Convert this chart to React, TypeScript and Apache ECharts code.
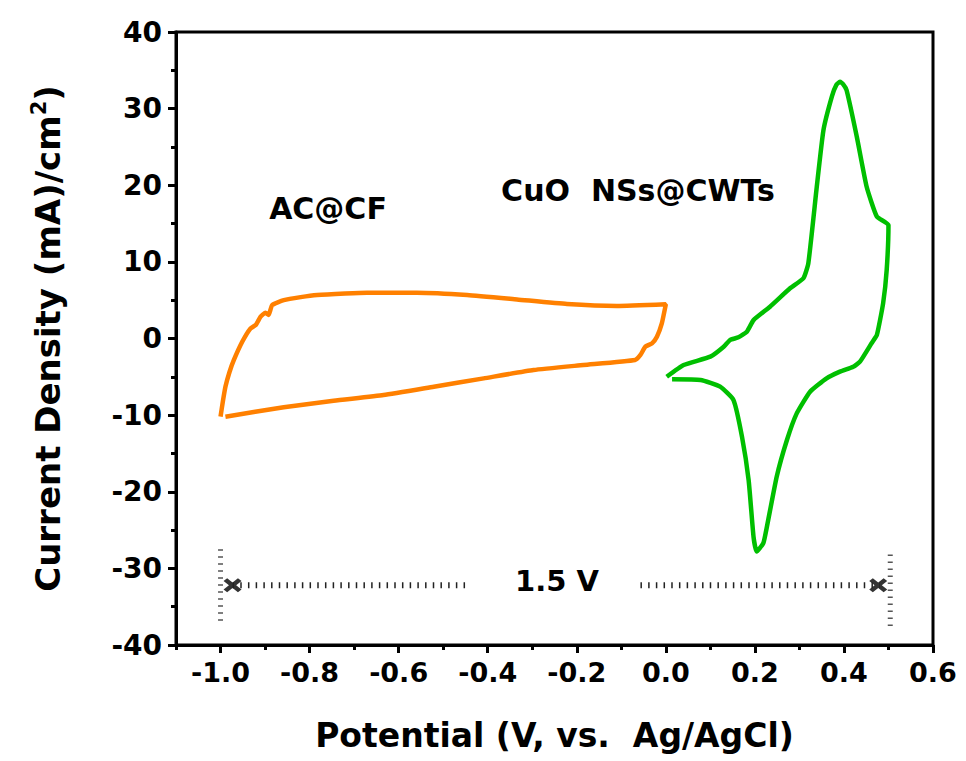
import React, { useEffect, useRef } from "react";
import * as echarts from "echarts";

// AC@CF cyclic voltammogram (Potential V, Current density mA/cm2)
const acPotential = [
  -1.0, -0.995, -0.989, -0.98, -0.97, -0.951, -0.933, -0.921, -0.91, -0.899, -0.892, -0.884, -0.858,
  -0.82, -0.783, -0.72, -0.671, -0.559, -0.446, -0.334, -0.222, -0.11, 0.0, -0.009, -0.02, -0.031,
  -0.046, -0.057, -0.069, -0.185, -0.297, -0.409, -0.521, -0.634, -0.746, -0.858, -0.989,
];
const acCurrent = [
  -10.2, -8.3, -6.3, -4.4, -2.8, -0.4, 1.3, 1.76, 2.85, 3.37, 3.07, 4.37, 5.0,
  5.4, 5.68, 5.88, 5.98, 5.98, 5.68, 5.1, 4.5, 4.24, 4.46, 1.98, 0.24, -0.63,
  -1.07, -2.15, -2.8, -3.46, -4.11, -5.2, -6.29, -7.38, -8.12, -8.98, -10.2,
];

// CuO NSs@CWTs cyclic voltammogram
const cuoPotential = [
  0.002, 0.04, 0.1, 0.13, 0.144, 0.163, 0.182, 0.197, 0.234, 0.279, 0.309, 0.32,
  0.339, 0.354, 0.373, 0.383, 0.391, 0.398, 0.406, 0.429, 0.451, 0.474, 0.5, 0.496, 0.488, 0.474,
  0.462, 0.436, 0.421, 0.391, 0.361, 0.324, 0.294, 0.272, 0.249, 0.227, 0.219, 0.204,
  0.197, 0.186, 0.171, 0.152, 0.122, 0.078, 0.014,
];
const cuoCurrent = [
  -4.99, -3.46, -2.37, -1.07, -0.2, 0.15, 0.89, 2.4, 4.15, 6.55, 7.86, 9.8,
  19.8, 27.2, 31.6, 33.1, 33.5, 33.2, 32.4, 26.3, 19.8, 15.9, 14.8, 8.94, 4.6, 0.46,
  -0.63, -3.03, -3.68, -4.33, -5.2, -6.94, -9.77, -13.25, -18.04, -24.57, -26.7, -27.8,
  -25.9, -18.5, -12.8, -8.03, -6.29, -5.42, -5.33,
];

// Potential window annotation (1.5 V)
const windowLeftDots = [-0.973, -0.45];
const windowRightDots = [-0.057, 0.481];
const windowMarks = [-0.973, 0.477];
const windowLevel = -32.2;
const windowEdgeLeft = { x: -1.0, y: [-27.5, -37.3] };
const windowEdgeRight = { x: 0.504, y: [-28.2, -37.6] };

const xMajorTicks = [-1.0, -0.8, -0.6, -0.4, -0.2, 0.0, 0.2, 0.4, 0.6];
const xMinorTicks = [-1.1, -0.9, -0.7, -0.5, -0.3, -0.1, 0.1, 0.3, 0.5];
const yTicks = [-40, -30, -20, -10, 0, 10, 20, 30, 40];

const FONT = "DejaVu Sans";

export default function App() {
  const ref = useRef<HTMLDivElement>(null);
  useEffect(() => {
    if (!ref.current) return;
    const chart = echarts.init(ref.current, null, { renderer: "svg" });
    const zip = (xs: number[], ys: number[]) => xs.map((x, i) => [x, ys[i]]);
    const dotStyle = { color: "#222", width: 6, type: [1.5, 6.2] as any, cap: "butt" as any };
    const edgeStyle = { color: "#555", width: 5, type: [1.5, 5.5] as any, cap: "butt" as any };
    chart.setOption({
      animation: false,
      backgroundColor: "#fff",
      grid: {
        left: 176, top: 32, right: 33, bottom: 116,
        show: true, borderColor: "#000", borderWidth: 3, backgroundColor: "transparent",
      },
      xAxis: [
        {
          type: "value", min: -1.1, max: 0.6,
          name: "Potential (V, vs.  Ag/AgCl)", nameLocation: "middle", nameGap: 74,
          nameTextStyle: { fontFamily: FONT, fontWeight: "bold", fontSize: 33, color: "#000" },
          axisLine: { show: true, onZero: false, lineStyle: { color: "#000", width: 3 } },
          axisTick: { show: true, customValues: xMajorTicks, length: 8, lineStyle: { color: "#000", width: 3 } },
          axisLabel: {
            customValues: xMajorTicks, margin: 14,
            formatter: (v: number) => v.toFixed(1),
            fontFamily: FONT, fontWeight: "bold", fontSize: 27, color: "#000",
          },
          splitLine: { show: false },
        },
        {
          type: "value", min: -1.1, max: 0.6, position: "bottom",
          axisLine: { show: false, onZero: false },
          axisTick: { show: true, customValues: xMinorTicks, length: 5, lineStyle: { color: "#000", width: 3 } },
          axisLabel: { show: false },
          splitLine: { show: false },
        },
      ],
      yAxis: {
        type: "value", min: -40, max: 40, interval: 10,
        name: "{a|Current Density (mA)/cm}{s|2}{a|)}",
        nameLocation: "middle", nameGap: 108, nameRotate: 90,
        nameTextStyle: {
          rich: {
            a: { fontFamily: FONT, fontWeight: "bold", fontSize: 34, color: "#000", lineHeight: 40 },
            s: { fontFamily: FONT, fontWeight: "bold", fontSize: 21, color: "#000", verticalAlign: "top", lineHeight: 40 },
          },
        },
        axisLine: { show: true, onZero: false, lineStyle: { color: "#000", width: 3 } },
        axisTick: { show: true, length: 8, lineStyle: { color: "#000", width: 3 } },
        minorTick: { show: true, splitNumber: 2, length: 5, lineStyle: { color: "#000", width: 3 } },
        axisLabel: {
          margin: 14, customValues: yTicks,
          fontFamily: FONT, fontWeight: "bold", fontSize: 28, color: "#000",
        },
        splitLine: { show: false },
      },
      series: [
        {
          type: "line", name: "AC@CF", data: zip(acPotential, acCurrent), smooth: 0.15,
          showSymbol: false, lineStyle: { color: "#FF8000", width: 4.5 }, itemStyle: { color: "#FF8000" },
        },
        {
          type: "line", name: "CuO NSs@CWTs", data: zip(cuoPotential, cuoCurrent), smooth: 0.15,
          showSymbol: false, lineStyle: { color: "#00BF00", width: 4.5 }, itemStyle: { color: "#00BF00" },
        },
        {
          type: "line", data: windowLeftDots.map((x) => [x, windowLevel]),
          showSymbol: false, lineStyle: dotStyle, silent: true,
        },
        {
          type: "line", data: windowRightDots.map((x) => [x, windowLevel]),
          showSymbol: false, lineStyle: dotStyle, silent: true,
        },
        {
          type: "line", data: windowEdgeLeft.y.map((y) => [windowEdgeLeft.x, y]),
          showSymbol: false, lineStyle: edgeStyle, silent: true,
        },
        {
          type: "line", data: windowEdgeRight.y.map((y) => [windowEdgeRight.x, y]),
          showSymbol: false, lineStyle: edgeStyle, silent: true,
        },
        {
          type: "scatter", data: windowMarks.map((x) => [x, windowLevel]),
          symbol: "path://M0,4L4,0L10,6L16,0L20,4L14,10L20,16L16,20L10,14L4,20L0,16L6,10Z",
          symbolSize: [18, 14], itemStyle: { color: "#000" }, silent: true,
        },
      ],
      graphic: [
        {
          type: "text", x: 328, y: 208,
          style: { text: "AC@CF", fontFamily: FONT, fontWeight: "bold", fontSize: 30, fill: "#000", textAlign: "center", textVerticalAlign: "middle" },
        },
        {
          type: "text", x: 638, y: 190,
          style: { text: "CuO  NSs@CWTs", fontFamily: FONT, fontWeight: "bold", fontSize: 30, fill: "#000", textAlign: "center", textVerticalAlign: "middle" },
        },
        {
          type: "text", x: 557, y: 581,
          style: { text: "1.5 V", fontFamily: FONT, fontWeight: "bold", fontSize: 29, fill: "#000", textAlign: "center", textVerticalAlign: "middle" },
        },
      ],
    });
    return () => chart.dispose();
  }, []);
  return <div ref={ref} style={{ position: "fixed", left: 0, top: 0, width: 966, height: 761 }} />;
}
